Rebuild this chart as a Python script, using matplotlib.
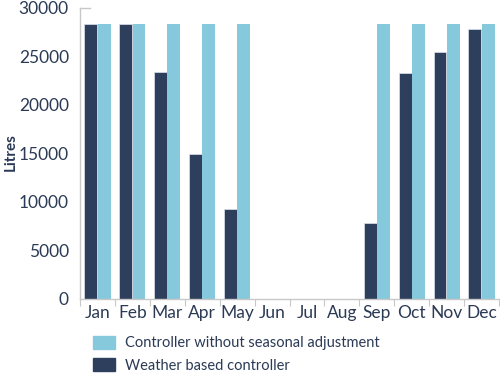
import numpy as np
import matplotlib
matplotlib.use('Agg')
import matplotlib.pyplot as plt
from matplotlib.patches import Patch

months = ['Jan', 'Feb', 'Mar', 'Apr', 'May', 'Jun', 'Jul', 'Aug', 'Sep', 'Oct', 'Nov', 'Dec']
weather_based = [28300, 28300, 23400, 14900, 9300, 0, 0, 0, 7800, 23300, 25500, 27800]
no_seasonal   = [28300, 28300, 28300, 28300, 28300, 0, 0, 0, 28300, 28300, 28300, 28300]

dark = '#2e3f5e'
light = '#86c9dd'
text_col = '#2b3a55'
grey = '#c8c8c8'

plt.rcParams['font.family'] = ['Lato', 'DejaVu Sans']

fig = plt.figure(figsize=(5.0, 3.77), dpi=100)
ax = fig.add_axes([0.16, 0.207, 0.838, 0.772])

x = np.arange(len(months))
w = 0.37
ax.bar(x - 0.19, weather_based, w, color=dark, edgecolor='#dde3ea', linewidth=0.5)
ax.bar(x + 0.19, no_seasonal, w, color=light, edgecolor='none')

ax.set_xlim(-0.5, len(months) - 0.5)
ax.set_ylim(0, 30000)
ax.set_yticks(range(0, 30001, 5000))
ax.set_xticks(x)
ax.set_xticklabels(months)
ax.set_xticks(np.arange(-0.5, len(months), 1.0), minor=True)

ax.tick_params(axis='x', which='major', length=0, labelsize=12.5, colors=text_col, pad=4)
ax.tick_params(axis='x', which='minor', length=5, color=grey, width=0.8)
ax.tick_params(axis='y', length=0, labelsize=12.5, colors=text_col, pad=8)

for s in ['top', 'right']:
    ax.spines[s].set_visible(False)
for s in ['left', 'bottom']:
    ax.spines[s].set_color(grey)
    ax.spines[s].set_linewidth(1.0)
ax.plot([-0.5, -0.2], [30000, 30000], color=grey, lw=1.0, clip_on=False)

ax.set_ylabel('Litres', fontsize=11, fontweight='bold', color=text_col)
ax.yaxis.set_label_coords(-0.148, 0.505)

handles = [Patch(color=light), Patch(color=dark)]
fig.legend(handles, ['Controller without seasonal adjustment', 'Weather based controller'],
           loc='upper left', bbox_to_anchor=(0.175, 0.125), frameon=False,
           fontsize=10.5, labelcolor=text_col, handlelength=1.5, handleheight=1.0,
           handletextpad=0.7, labelspacing=0.55, borderaxespad=0)

fig.savefig('out.png', dpi=100)
